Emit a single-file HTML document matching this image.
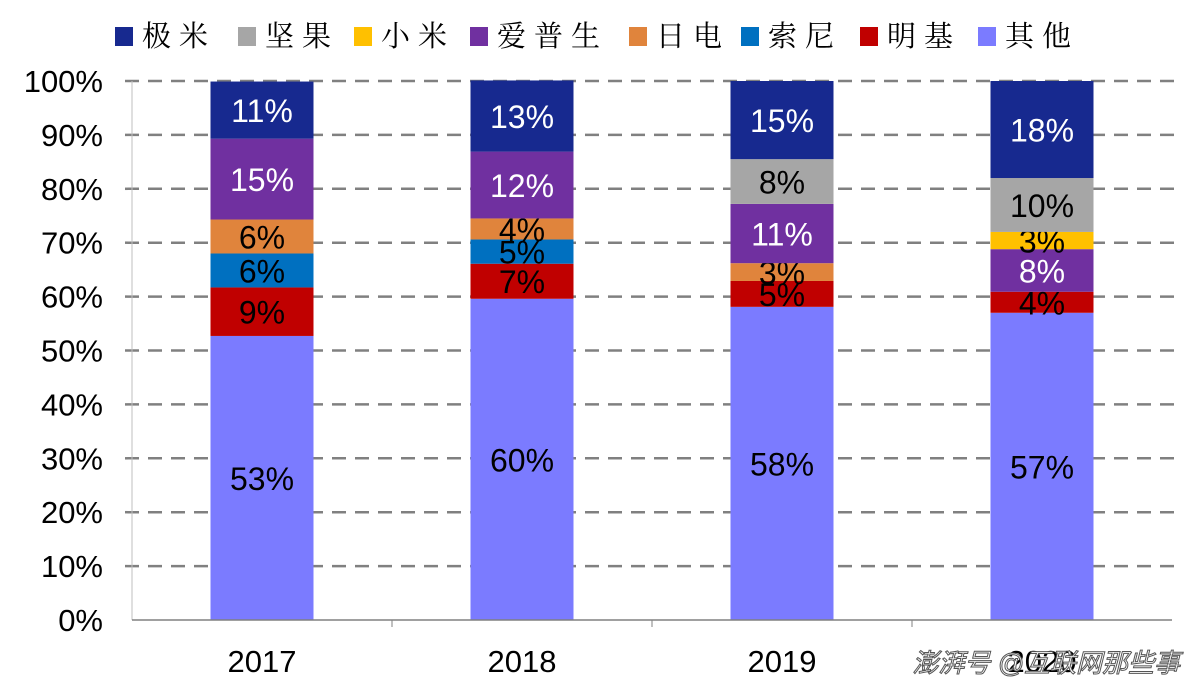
<!DOCTYPE html>
<html><head><meta charset="utf-8"><style>
html,body{margin:0;padding:0;background:#fff;}
svg{display:block;}
</style></head><body>
<svg id="chart" width="1200" height="688" xmlns="http://www.w3.org/2000/svg"></svg>
<script>
const categories = ['2017','2018','2019','2020'];
const seriesNames = ['其他','明基','索尼','日电','爱普生','小米','坚果','极米'];
const seriesColors = ['#7b7bff','#c00000','#0070c0','#e0843c','#7030a0','#ffc000','#a6a6a6','#17298f'];
const seriesText = ['#000','#000','#000','#000','#fff','#000','#000','#fff'];
const s_other = [52.7, 59.6, 58.1, 57.0];
const s_benq = [9.0, 6.5, 4.8, 3.9];
const s_sony = [6.3, 4.5, 0, 0];
const s_nec = [6.3, 3.9, 3.3, 0];
const s_epson = [15.0, 12.4, 11.0, 7.9];
const s_xiaomi = [0, 0, 0, 3.2];
const s_nut = [0, 0, 8.3, 10.0];
const s_jmgo = [10.6, 13.2, 14.5, 18.0];
const yTicks = [0,10,20,30,40,50,60,70,80,90,100];
const legendOrder = ['极米','坚果','小米','爱普生','日电','索尼','明基','其他'];

const series = [s_other,s_benq,s_sony,s_nec,s_epson,s_xiaomi,s_nut,s_jmgo];
const NS='http://www.w3.org/2000/svg';
const svg=document.getElementById('chart');
const plotL=132, plotR=1172, y0=620, y100=81;
const y=v=>y0-(y0-y100)*v/100;
const band=(plotR-plotL)/categories.length;
const xc=i=>plotL+band*(i+0.5);
const barW=103;
function mk(tag,attrs){const e=document.createElementNS(NS,tag);for(const k in attrs)e.setAttribute(k,attrs[k]);svg.appendChild(e);return e;}

yTicks.forEach(t=>{
  if(t>0){const g=mk('line',{x1:125,x2:plotR+2,y1:y(t),y2:y(t),stroke:'#808080','stroke-width':2.5,'stroke-dasharray':'14 9'});
  
  }
  const tl=mk('text',{x:103,y:y(t)+11,'text-anchor':'end','font-family':'Liberation Sans, sans-serif','font-size':31,fill:'#000'});
  tl.textContent=t+'%';
  
  
});
const yax=mk('line',{x1:plotL,x2:plotL,y1:y100,y2:y0,stroke:'#bfbfbf','stroke-width':1});



categories.forEach((c,i)=>{
  let acc=0;
  series.forEach((s,k)=>{
    const v=s[i]; if(!v) return;
    const top=y(acc+v), bot=y(acc);
    const r=mk('rect',{x:xc(i)-barW/2,y:top,width:barW,height:bot-top,fill:seriesColors[k]});
    
    
    const t=mk('text',{x:xc(i),y:(top+bot)/2+12,'text-anchor':'middle','font-family':'Liberation Sans, sans-serif','font-size':32,fill:seriesText[k]});
    t.textContent=Math.round(v)+'%';
    
    
    acc+=v;
  });
  const xl=mk('text',{x:xc(i),y:672,'text-anchor':'middle','font-family':'Liberation Sans, sans-serif','font-size':31,fill:'#000'});
  xl.textContent=c;
  
  
  if(i>0){const tk=mk('line',{x1:plotL+band*i,x2:plotL+band*i,y1:y0,y2:y0+7,stroke:'#808080','stroke-width':1});
  
  }
});
const xax=mk('line',{x1:plotL,x2:plotR,y1:y0,y2:y0,stroke:'#808080','stroke-width':1.5});



const legX=[115,238,354,470,629,741,860,978];
legendOrder.forEach((n,j)=>{
  const k=seriesNames.indexOf(n);
  const sq=mk('rect',{x:legX[j],y:27,width:18,height:19,fill:seriesColors[k]});
  
  
  const t=mk('text',{x:legX[j]+27,y:46,'font-family':'Noto Serif CJK SC, serif','font-size':29,'letter-spacing':8,fill:'#000'});
  t.textContent=n;
  
  
});
const wm=mk('text',{x:1180,y:672,'text-anchor':'end','font-family':'Liberation Sans, Noto Sans CJK SC, sans-serif','font-size':26,fill:'#fff',stroke:'#555','stroke-width':1,'font-style':'italic'});
wm.textContent='澎湃号 @互联网那些事';


</script>
</body></html>
